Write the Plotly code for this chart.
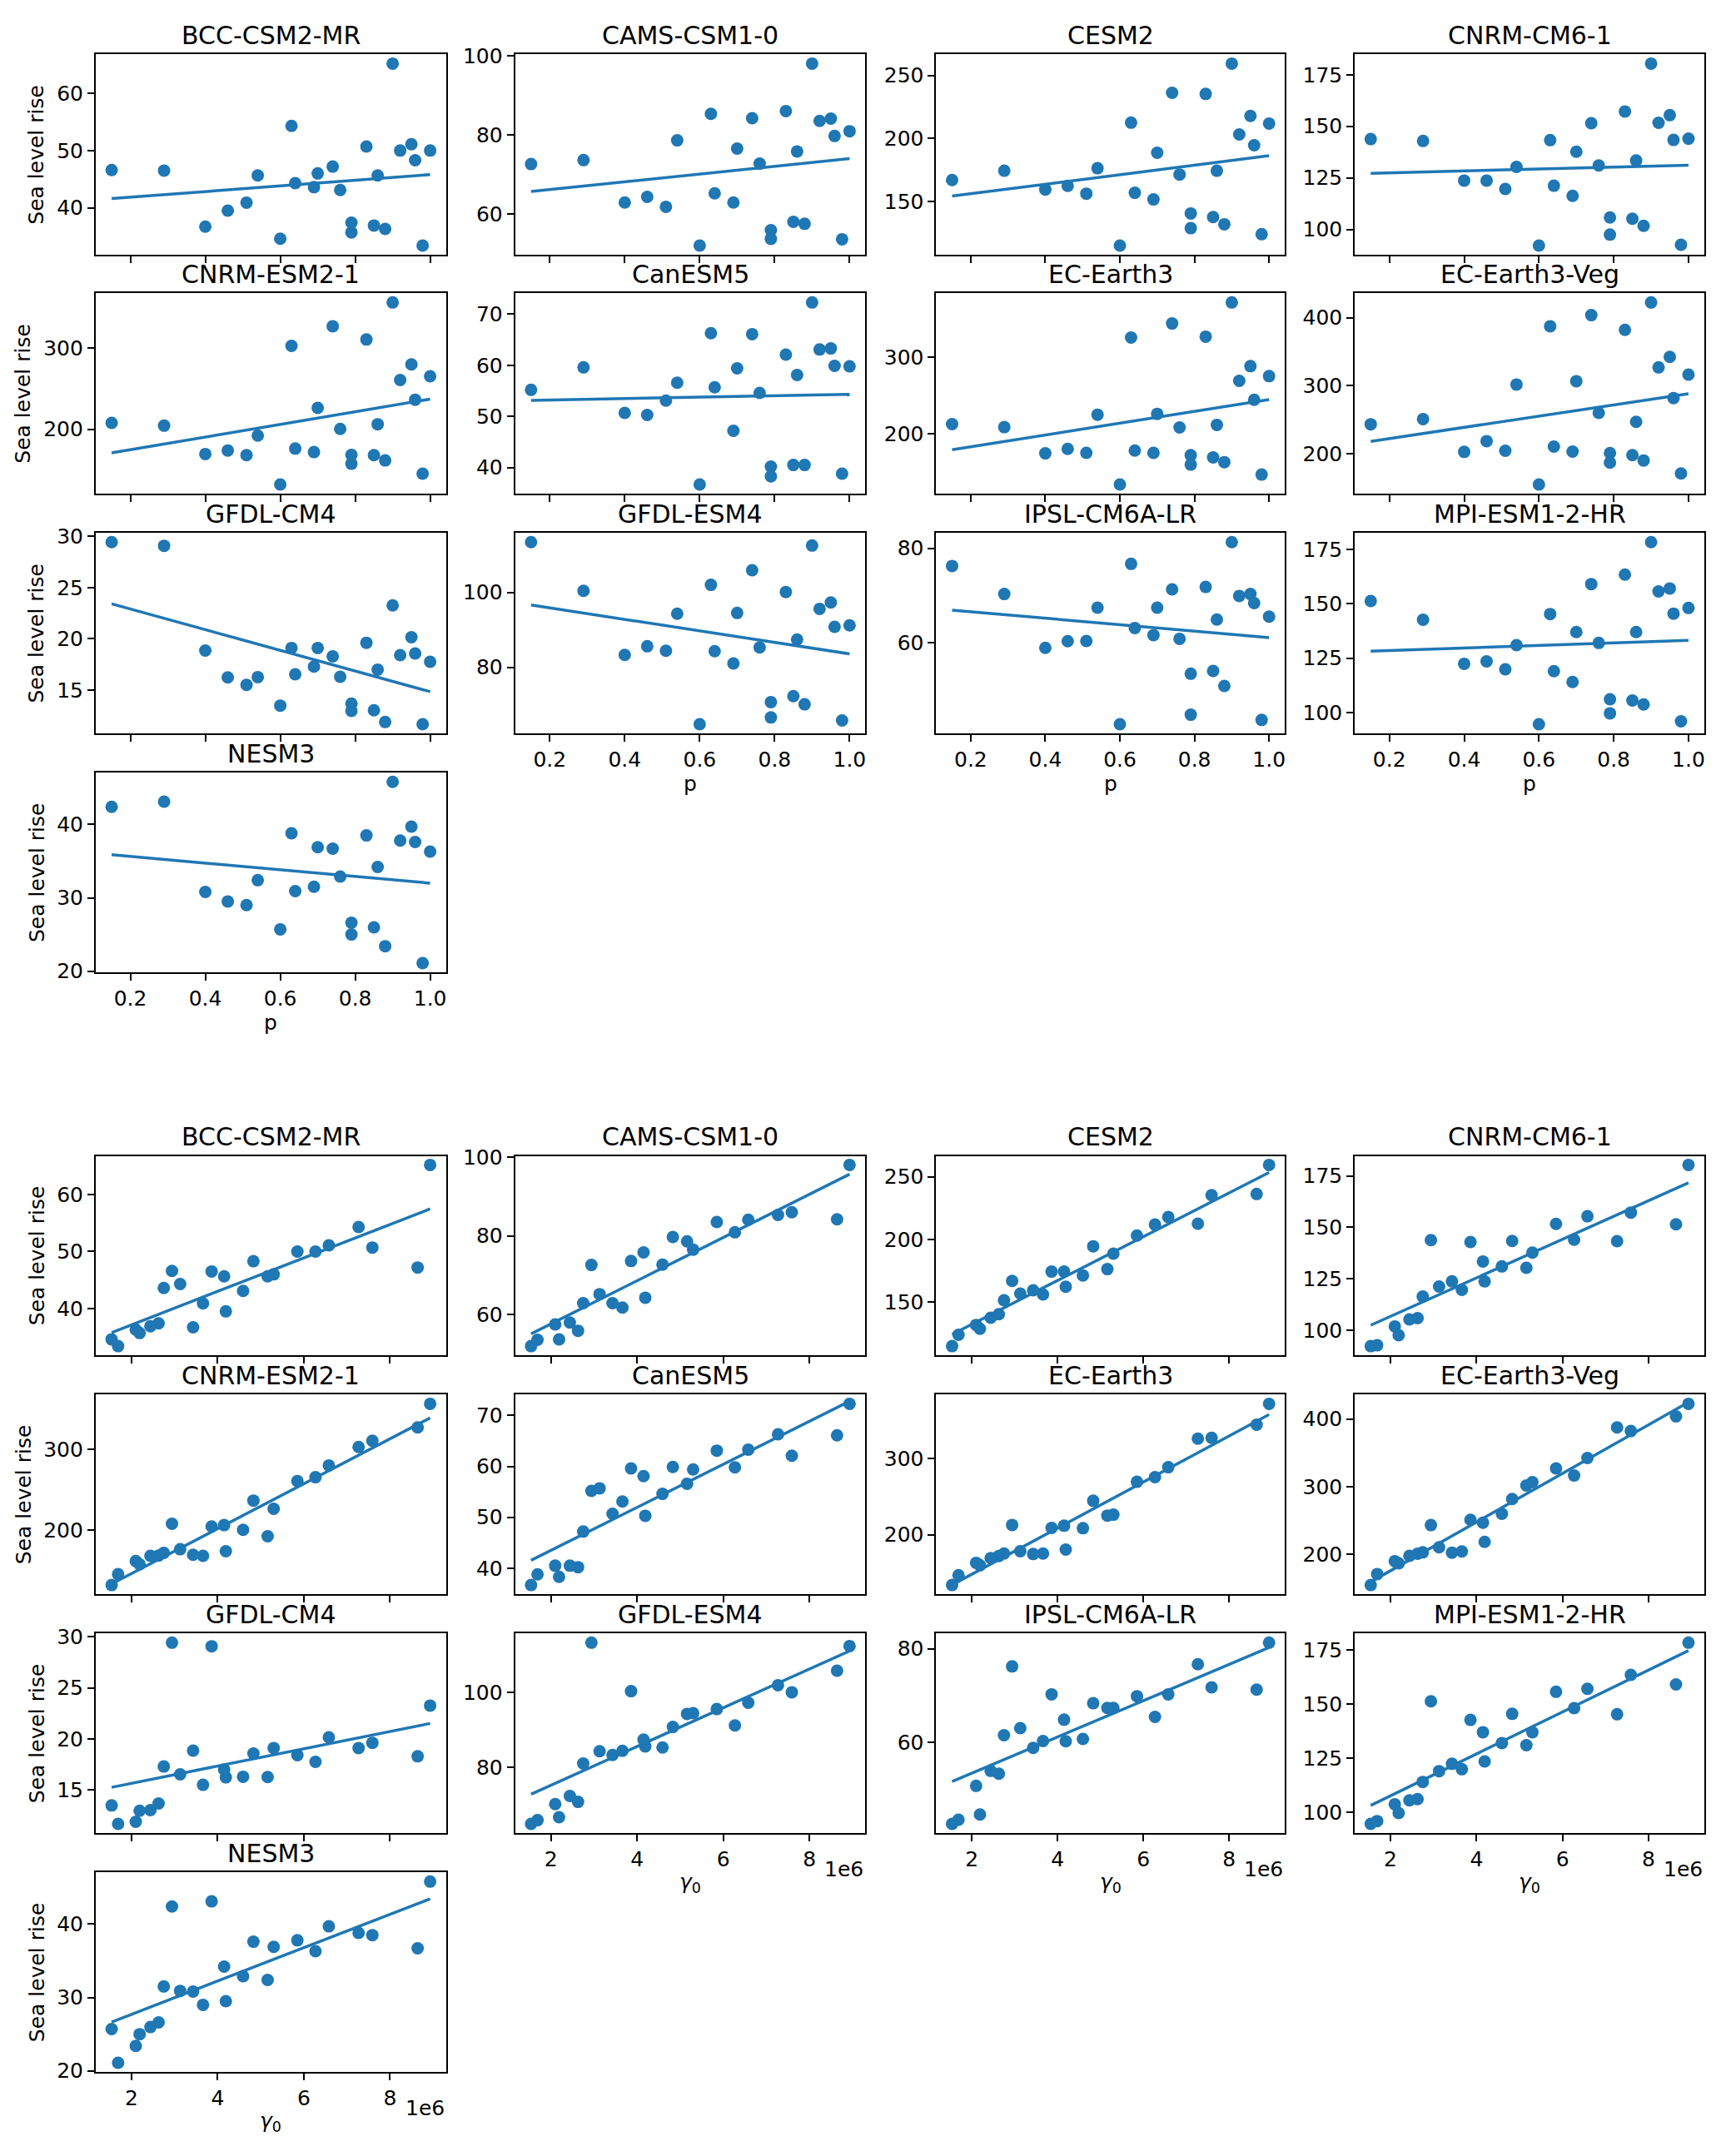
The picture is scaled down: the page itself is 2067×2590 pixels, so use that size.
#######################################
#                package              #
#######################################
import plotly.graph_objects as go
import numpy as np

#######################################
#                 Data                #
#######################################

models = ['BCC-CSM2-MR', 'CAMS-CSM1-0', 'CESM2', 'CNRM-CM6-1',
          'CNRM-ESM2-1', 'CanESM5', 'EC-Earth3', 'EC-Earth3-Veg',
          'GFDL-CM4', 'GFDL-ESM4', 'IPSL-CM6A-LR', 'MPI-ESM1-2-HR', 'NESM3']

p = [0.15, 0.29, 0.40, 0.46, 0.51, 0.54, 0.60, 0.63, 0.64, 0.69, 0.70, 0.74, 0.76,
     0.79, 0.79, 0.83, 0.85, 0.86, 0.88, 0.90, 0.92, 0.95, 0.96, 0.98, 1.00]

# gamma_0 in units of 1e6
gamma0 = [2.94, 3.86, 3.43, 4.19, 3.66, 5.16, 1.54, 7.27, 3.13, 2.75, 5.30, 8.64, 4.59,
          2.63, 2.19, 7.59, 2.44, 4.15, 2.10, 8.93, 5.85, 6.58, 4.83, 1.69, 6.27]

bcc_csm2_mr = [46.6, 46.5, 36.7, 39.5, 40.9, 45.65, 34.6, 54.3, 44.3, 43.6, 46.0, 47.2, 43.1,
               37.4, 35.7, 50.7, 36.9, 45.65, 36.3, 65.2, 50.0, 51.1, 48.3, 33.4, 50.0]
cams_csm1_0 = [72.6, 73.6, 62.9, 64.3, 61.8, 78.6, 52.0, 85.3, 65.2, 62.9, 76.5, 84.2, 72.7,
               55.9, 53.7, 86.0, 58.0, 75.8, 57.5, 98.0, 83.5, 84.1, 79.7, 53.6, 80.9]
cesm2 = [166.9, 174.3, 159.4, 162.3, 156.1, 176.3, 114.9, 212.5, 156.8, 151.5, 188.6, 236.2, 171.3,
         140.4, 128.7, 235.3, 137.5, 174.3, 131.8, 259.4, 203.1, 217.8, 194.5, 123.9, 211.8]
cnrm_cm6_1 = [143.8, 142.9, 123.7, 123.7, 119.6, 130.3, 92.2, 143.3, 121.2, 116.3, 137.7, 151.5, 131.0,
              105.8, 97.5, 157.2, 105.2, 133.4, 101.8, 180.4, 151.7, 155.4, 143.4, 92.6, 144.0]
cnrm_esm2_1 = [207.8, 204.4, 169.3, 173.7, 167.9, 192.2, 131.7, 303.1, 176.1, 171.7, 226.3, 327.3, 200.3,
               168.3, 157.3, 310.9, 167.9, 206.1, 161.4, 356.7, 260.8, 280.2, 236.5, 145.1, 265.5]
canesm5 = [55.2, 59.6, 50.7, 50.3, 53.1, 56.6, 36.7, 66.3, 55.7, 47.2, 59.4, 66.1, 54.6,
           40.2, 38.3, 62.1, 40.5, 58.1, 40.5, 72.3, 63.1, 63.3, 59.9, 38.8, 59.8]
ec_earth3 = [212.9, 209.0, 174.8, 180.6, 175.5, 225.2, 134.2, 325.9, 178.4, 175.5, 226.3, 344.2, 208.6,
             172.3, 160.1, 327.0, 169.4, 211.9, 163.3, 371.6, 269.4, 288.5, 244.6, 147.1, 275.5]
ec_earth3_veg = [243.1, 250.8, 202.4, 218.3, 204.1, 301.6, 154.5, 387.4, 210.2, 202.8, 306.5, 403.7, 259.8,
                 200.8, 186.6, 382.1, 197.6, 246.7, 189.8, 422.4, 326.8, 342.3, 281.7, 170.7, 316.3]
gfdl_cm4 = [29.43, 29.08, 18.86, 16.24, 15.51, 16.27, 13.49, 19.11, 16.54, 17.30, 19.11, 18.30, 16.30,
            13.68, 12.97, 19.62, 13.03, 17.00, 11.89, 23.27, 18.41, 20.16, 18.57, 11.68, 17.76]
gfdl_esm4 = [113.4, 100.4, 83.3, 85.6, 84.4, 94.3, 64.8, 102.0, 84.3, 81.0, 94.5, 105.9, 85.3,
             70.7, 66.6, 100.1, 72.3, 87.4, 70.1, 112.5, 95.6, 97.3, 90.8, 65.8, 91.2]
ipsl_cm6a_lr = [76.25, 70.3, 58.9, 60.3, 60.35, 67.4, 42.7, 76.7, 63.1, 61.6, 67.4, 71.3, 60.8,
                53.4, 44.7, 71.8, 54.0, 64.9, 50.8, 81.3, 69.9, 70.3, 68.4, 43.6, 65.5]
mpi_esm1_2_hr = [151.3, 142.7, 122.4, 123.5, 119.9, 131.0, 94.6, 145.3, 119.0, 114.0, 137.0, 159.1, 132.0,
                 106.1, 99.6, 163.5, 105.5, 137.0, 103.7, 178.4, 155.7, 157.1, 145.5, 95.9, 148.1]
nesm3 = [42.4, 43.1, 30.8, 29.5, 29.0, 32.4, 25.7, 38.8, 30.9, 31.5, 36.9, 36.7, 32.9,
         26.6, 25.0, 38.5, 25.97, 34.2, 23.4, 45.8, 37.8, 39.7, 37.6, 21.1, 36.3]

series = [bcc_csm2_mr, cams_csm1_0, cesm2, cnrm_cm6_1, cnrm_esm2_1, canesm5, ec_earth3,
          ec_earth3_veg, gfdl_cm4, gfdl_esm4, ipsl_cm6a_lr, mpi_esm1_2_hr, nesm3]

# y tick spacing per model (matplotlib-like)
y_dtick = [10, 20, 50, 25, 100, 10, 100, 100, 5, 20, 20, 25, 10]

#######################################
#               Layout px             #
#######################################
W, H = 2067, 2590
col_px = [(115, 536), (619, 1040), (1125, 1544), (1628, 2048)]
row_px = [[(53, 296), (343, 586), (634, 877), (925, 1167)],
          [(1390, 1632), (1680, 1922), (1970, 2212), (2260, 2502)]]

BLUE = '#1f77b4'
FONT = 'DejaVu Sans'


def fx(v):
    return v / W


def fy(v):
    return 1 - v / H


def padded(vals):
    lo, hi = min(vals), max(vals)
    d = (hi - lo) * 0.05
    return [lo - d, hi + d]


#######################################
#                  Fig                #
#######################################

fig = go.Figure()
layout = {}
annotations = []

gamma_raw = [g * 1e6 for g in gamma0]
x_sets = [p, gamma_raw]

k = 0
for g in range(2):
    xs = x_sets[g]
    for i, name in enumerate(models):
        k += 1
        row, col = i // 4, i % 4
        ys = series[i]
        xa = 'x' if k == 1 else 'x%d' % k
        ya = 'y' if k == 1 else 'y%d' % k

        fig.add_trace(go.Scatter(x=xs, y=ys, mode='markers', xaxis=xa, yaxis=ya,
                                 marker=dict(color=BLUE, size=15, line=dict(width=0)),
                                 showlegend=False))
        slope, icpt = np.polyfit(xs, ys, 1)
        xl = [min(xs), max(xs)]
        fig.add_trace(go.Scatter(x=xl, y=[slope * v + icpt for v in xl], mode='lines',
                                 xaxis=xa, yaxis=ya, line=dict(color=BLUE, width=3.5),
                                 showlegend=False))

        l, r = col_px[col]
        t, b = row_px[g][row]
        last = (row == 3) if col == 0 else (row == 2)

        xax = dict(domain=[fx(l), fx(r)], anchor=ya, range=padded(xs),
                   showgrid=False, zeroline=False, showline=True, mirror=True,
                   linecolor='black', linewidth=2, ticks='outside', ticklen=8,
                   tickwidth=2, tickcolor='black', showticklabels=last,
                   tickfont=dict(family=FONT, size=25, color='black'))
        if g == 0:
            xax.update(tickvals=[0.2, 0.4, 0.6, 0.8, 1.0],
                       ticktext=['0.2', '0.4', '0.6', '0.8', '1.0'])
        else:
            xax.update(tickvals=[2e6, 4e6, 6e6, 8e6], ticktext=['2', '4', '6', '8'])
        yax = dict(domain=[fy(b), fy(t)], anchor=xa, range=padded(ys),
                   tick0=0, dtick=y_dtick[i],
                   showgrid=False, zeroline=False, showline=True, mirror=True,
                   linecolor='black', linewidth=2, ticks='outside', ticklen=8,
                   tickwidth=2, tickcolor='black',
                   tickfont=dict(family=FONT, size=25, color='black'))
        layout['xaxis' if k == 1 else 'xaxis%d' % k] = xax
        layout['yaxis' if k == 1 else 'yaxis%d' % k] = yax

        # panel title
        annotations.append(dict(text=name, x=fx((l + r) / 2), y=fy(t - 23),
                                xref='paper', yref='paper', showarrow=False,
                                xanchor='center', yanchor='middle',
                                font=dict(family=FONT, size=30, color='black')))
        # y label
        if col == 0:
            xlab = 28 if max(ys) >= 100 else 44
            annotations.append(dict(text='Sea level rise', x=fx(xlab), y=fy((t + b) / 2),
                                    xref='paper', yref='paper', showarrow=False,
                                    textangle=-90, xanchor='center', yanchor='middle',
                                    font=dict(family=FONT, size=25, color='black')))
        # x label
        if last:
            lab = 'p' if g == 0 else '<i>γ</i><sub>0</sub>'
            annotations.append(dict(text=lab, x=fx((l + r) / 2), y=fy(b + 61),
                                    xref='paper', yref='paper', showarrow=False,
                                    xanchor='center', yanchor='middle',
                                    font=dict(family=FONT, size=25, color='black')))
            if g == 1:
                annotations.append(dict(text='1e6', x=fx(r), y=fy(b + 44),
                                        xref='paper', yref='paper', showarrow=False,
                                        xanchor='right', yanchor='middle',
                                        font=dict(family=FONT, size=25, color='black')))

#######################################
#                Layout               #
#######################################
fig.update_layout(width=W, height=H, autosize=False,
                  margin=dict(l=0, r=0, t=0, b=0),
                  paper_bgcolor='white', plot_bgcolor='white',
                  annotations=annotations, **layout)

#######################################
#              Save Fig               #
#######################################
fig.write_html('out.html', config={'displayModeBar': False},
               post_script="document.body.style.margin='0';")
